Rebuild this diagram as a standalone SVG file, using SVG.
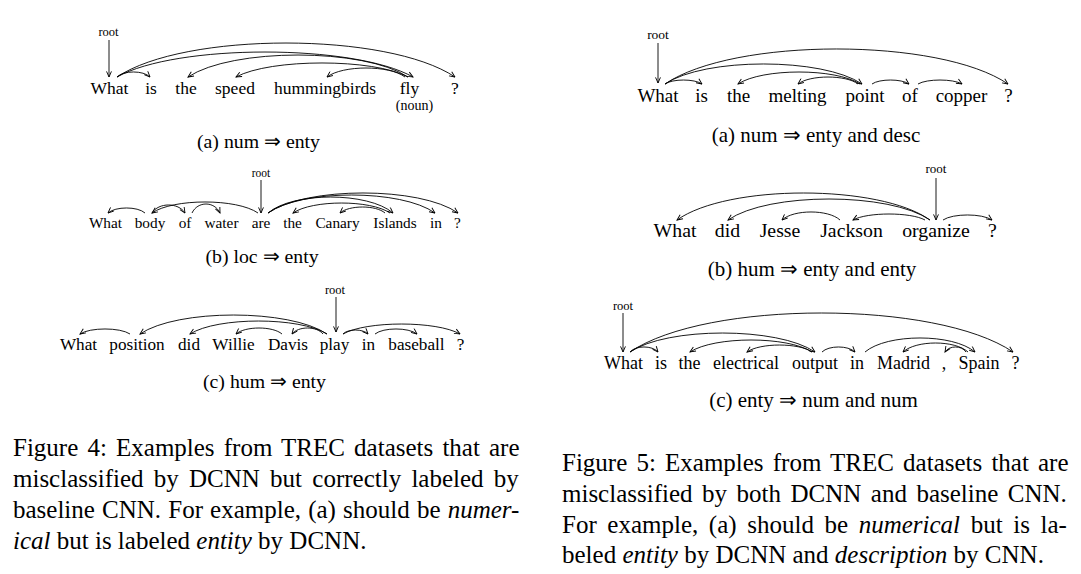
<svg xmlns="http://www.w3.org/2000/svg" width="1081" height="574" viewBox="0 0 1081 574">
<style>
text{font-family:"Liberation Serif","Times New Roman",serif;fill:#000}
.w{text-anchor:middle}
.r{text-anchor:middle}
.a4a{font-size:17.5px}.a4b{font-size:15.3px}.a4c{font-size:17.2px}
.a5a{font-size:19px}.a5b{font-size:19.8px}.a5c{font-size:18px}
.sub{font-size:19.8px;text-anchor:middle}
.sub5{font-size:21px;text-anchor:middle}
.cap{font-size:25px}
.arc{fill:none;stroke:#000;stroke-width:0.9;marker-end:url(#ah)}
</style>
<defs>
<marker id="ah" viewBox="0 0 10 10" refX="9" refY="5" markerWidth="7" markerHeight="7" markerUnits="userSpaceOnUse" orient="auto">
<path d="M1,1.5 L9,5 L1,8.5" fill="none" stroke="#000" stroke-width="1.3"/>
</marker>
</defs>
<rect width="1081" height="574" fill="#fff"/>

<!-- Figure 4a -->
<g id="f4a">
<g id="f4a-root"><text class="r" x="108.5" y="35.5" font-size="12.5">root</text></g>
<g id="f4a-what"><text class="w a4a" x="109.5" y="94">What</text></g>
<g id="f4a-is"><text class="w a4a" x="151" y="94">is</text></g>
<g id="f4a-the"><text class="w a4a" x="186" y="94">the</text></g>
<g id="f4a-speed"><text class="w a4a" x="235" y="94">speed</text></g>
<g id="f4a-hummingbirds"><text class="w a4a" x="325" y="94">hummingbirds</text></g>
<g id="f4a-fly"><text class="w a4a" x="409.5" y="94">fly</text><text class="w" x="414.5" y="110" font-size="14">(noun)</text></g>
<g id="f4a-q"><text class="w a4a" x="455" y="94">?</text></g>
<g id="f4a-cap"><text class="sub" x="258.5" y="148">(a) num ⇒ enty</text></g>
</g>

<!-- Figure 4b -->
<g id="f4b">
<g id="f4b-root"><text class="r" x="261" y="176.5" font-size="11.5">root</text></g>
<g id="f4b-what"><text class="w a4b" x="105.5" y="228">What</text></g>
<g id="f4b-body"><text class="w a4b" x="150" y="228">body</text></g>
<g id="f4b-of"><text class="w a4b" x="185" y="228">of</text></g>
<g id="f4b-water"><text class="w a4b" x="221.5" y="228">water</text></g>
<g id="f4b-are"><text class="w a4b" x="261" y="228">are</text></g>
<g id="f4b-the"><text class="w a4b" x="292.5" y="228">the</text></g>
<g id="f4b-canary"><text class="w a4b" x="337.5" y="228">Canary</text></g>
<g id="f4b-islands"><text class="w a4b" x="395" y="228">Islands</text></g>
<g id="f4b-in"><text class="w a4b" x="436" y="228">in</text></g>
<g id="f4b-q"><text class="w a4b" x="457.5" y="228">?</text></g>
<g id="f4b-cap"><text class="sub" x="262" y="263">(b) loc ⇒ enty</text></g>
</g>

<!-- Figure 4c -->
<g id="f4c">
<g id="f4c-root"><text class="r" x="335" y="293.7" font-size="12.5">root</text></g>
<g id="f4c-what"><text class="w a4c" x="78.5" y="350">What</text></g>
<g id="f4c-position"><text class="w a4c" x="137" y="350">position</text></g>
<g id="f4c-did"><text class="w a4c" x="189" y="350">did</text></g>
<g id="f4c-willie"><text class="w a4c" x="233.5" y="350">Willie</text></g>
<g id="f4c-davis"><text class="w a4c" x="288" y="350">Davis</text></g>
<g id="f4c-play"><text class="w a4c" x="334.5" y="350">play</text></g>
<g id="f4c-in"><text class="w a4c" x="368.5" y="350">in</text></g>
<g id="f4c-baseball"><text class="w a4c" x="416.5" y="350">baseball</text></g>
<g id="f4c-q"><text class="w a4c" x="460.5" y="350">?</text></g>
<g id="f4c-cap"><text class="sub" x="264.5" y="388">(c) hum ⇒ enty</text></g>
</g>

<!-- Figure 5a -->
<g id="f5a">
<g id="f5a-root"><text class="r" x="658" y="39" font-size="13.5">root</text></g>
<g id="f5a-what"><text class="w a5a" x="658" y="102">What</text></g>
<g id="f5a-is"><text class="w a5a" x="701.5" y="102">is</text></g>
<g id="f5a-the"><text class="w a5a" x="738.5" y="102">the</text></g>
<g id="f5a-melting"><text class="w a5a" x="797.5" y="102">melting</text></g>
<g id="f5a-point"><text class="w a5a" x="865" y="102">point</text></g>
<g id="f5a-of"><text class="w a5a" x="910" y="102">of</text></g>
<g id="f5a-copper"><text class="w a5a" x="961.5" y="102">copper</text></g>
<g id="f5a-q"><text class="w a5a" x="1008.5" y="102">?</text></g>
<g id="f5a-cap"><text class="sub5" x="816" y="142">(a) num ⇒ enty and desc</text></g>
</g>

<!-- Figure 5b -->
<g id="f5b">
<g id="f5b-root"><text class="r" x="936" y="172.7" font-size="13">root</text></g>
<g id="f5b-what"><text class="w a5b" x="675" y="237">What</text></g>
<g id="f5b-did"><text class="w a5b" x="727.5" y="237">did</text></g>
<g id="f5b-jesse"><text class="w a5b" x="780" y="237">Jesse</text></g>
<g id="f5b-jackson"><text class="w a5b" x="851.5" y="237">Jackson</text></g>
<g id="f5b-organize"><text class="w a5b" x="936" y="237">organize</text></g>
<g id="f5b-q"><text class="w a5b" x="992.5" y="237">?</text></g>
<g id="f5b-cap"><text class="sub5" x="812" y="276">(b) hum ⇒ enty and enty</text></g>
</g>

<!-- Figure 5c -->
<g id="f5c">
<g id="f5c-root"><text class="r" x="623" y="310" font-size="12.5">root</text></g>
<g id="f5c-what"><text class="w a5c" x="623.5" y="369">What</text></g>
<g id="f5c-is"><text class="w a5c" x="661" y="369">is</text></g>
<g id="f5c-the"><text class="w a5c" x="689.5" y="369">the</text></g>
<g id="f5c-electrical"><text class="w a5c" x="746" y="369">electrical</text></g>
<g id="f5c-output"><text class="w a5c" x="815" y="369">output</text></g>
<g id="f5c-in"><text class="w a5c" x="857" y="369">in</text></g>
<g id="f5c-madrid"><text class="w a5c" x="903.5" y="369">Madrid</text></g>
<g id="f5c-comma"><text class="w a5c" x="944" y="369">,</text></g>
<g id="f5c-spain"><text class="w a5c" x="979" y="369">Spain</text></g>
<g id="f5c-q"><text class="w a5c" x="1015.5" y="369">?</text></g>
<g id="f5c-cap"><text class="sub5" x="813.5" y="407">(c) enty ⇒ num and num</text></g>
</g>

<!-- Connectors -->
<g id="connectors">
<!-- root arrows -->
<path class="arc" d="M109,40 L109,77"/>
<path class="arc" d="M261,180 L261,213"/>
<path class="arc" d="M336,297 L336,332"/>
<path class="arc" d="M658,43 L658,83"/>
<path class="arc" d="M936,178 L936,220"/>
<path class="arc" d="M623,313 L623,352"/>
<!-- 4a -->
<path class="arc" d="M117,77 C123.6,70.3 143.4,70.3 150,77"/>
<path class="arc" d="M117,77 C184.6,31.7 387.4,31.7 455,77"/>
<path class="arc" d="M117,77 C176.2,43.7 353.8,43.7 413,77"/>
<path class="arc" d="M408,77 C364,47.7 232,47.7 188,77"/>
<path class="arc" d="M408,77 C373.6,58.3 270.4,58.3 236,77"/>
<path class="arc" d="M405,77 C389.4,65 342.6,65 327,77"/>
<!-- 4b -->
<path class="arc" d="M145,213 C137.6,206.3 115.4,206.3 108,213"/>
<path class="arc" d="M152,213 C158.6,202.3 178.4,202.3 185,213"/>
<path class="arc" d="M192,213 C197.6,201 214.4,201 220,213"/>
<path class="arc" d="M258,213 C236.8,198.3 173.2,198.3 152,213"/>
<path class="arc" d="M268,213 C293,191.7 368,191.7 393,213"/>
<path class="arc" d="M390,213 C370.6,199.7 312.4,199.7 293,213"/>
<path class="arc" d="M385,213 C376,205 349,205 340,213"/>
<path class="arc" d="M268,213 C301.4,189 401.6,189 435,213"/>
<path class="arc" d="M268,213 C306,186.3 420,186.3 458,213"/>
<!-- 4c -->
<path class="arc" d="M130,334 C120,327.3 90,327.3 80,334"/>
<path class="arc" d="M327,334 C289.6,308.7 177.4,308.7 140,334"/>
<path class="arc" d="M327,334 C299.6,316.7 217.4,316.7 190,334"/>
<path class="arc" d="M282,334 C272.8,326 245.2,326 236,334"/>
<path class="arc" d="M323,334 C316.8,326 298.2,326 292,334"/>
<path class="arc" d="M343,334 C348,328.7 363,328.7 368,334"/>
<path class="arc" d="M375,334 C383.4,327.3 408.6,327.3 417,334"/>
<path class="arc" d="M343,334 C366.4,320.7 436.6,320.7 460,334"/>
<!-- 5a -->
<path class="arc" d="M665,84 C672.4,78.7 694.6,78.7 702,84"/>
<path class="arc" d="M665,84 C733.6,37.3 939.4,37.3 1008,84"/>
<path class="arc" d="M665,84 C704.4,57.3 822.6,57.3 862,84"/>
<path class="arc" d="M860,84 C835.6,68 762.4,68 738,84"/>
<path class="arc" d="M858,84 C846,74.7 810,74.7 798,84"/>
<path class="arc" d="M872,84 C879.4,78.7 901.6,78.7 909,84"/>
<path class="arc" d="M918,84 C926.8,78.7 953.2,78.7 962,84"/>
<!-- 5b -->
<path class="arc" d="M930,220 C879.4,184 727.6,184 677,220"/>
<path class="arc" d="M930,220 C889.6,192 768.4,192 728,220"/>
<path class="arc" d="M840,220 C828.4,209.3 793.6,209.3 782,220"/>
<path class="arc" d="M925,220 C910.6,212 867.4,212 853,220"/>
<path class="arc" d="M943,220 C952.8,213.3 982.2,213.3 992,220"/>
<!-- 5c -->
<path class="arc" d="M630,352 C635.6,345.3 652.4,345.3 658,352"/>
<path class="arc" d="M630,352 C706.6,300 936.4,300 1013,352"/>
<path class="arc" d="M630,352 C667,326.7 778,326.7 815,352"/>
<path class="arc" d="M812,352 C787.6,336 714.4,336 690,352"/>
<path class="arc" d="M812,352 C799,342.7 760,342.7 747,352"/>
<path class="arc" d="M822,352 C828.6,345.3 848.4,345.3 855,352"/>
<path class="arc" d="M865,352 C887,333.3 953,333.3 975,352"/>
<path class="arc" d="M968,352 C955,340 916,340 903,352"/>
<path class="arc" d="M966,352 C961.8,345.3 949.2,345.3 945,352"/>
</g>

<!-- Captions -->
<g id="caption4" class="cap">
<text x="13" y="455.5" word-spacing="2.9">Figure 4: Examples from TREC datasets that are</text>
<text x="13" y="486.5" word-spacing="4.0">misclassified by DCNN but correctly labeled by</text>
<text x="13" y="517.5" word-spacing="0.9">baseline CNN. For example, (a) should be <tspan font-style="italic">numer-</tspan></text>
<text x="13" y="548.5"><tspan font-style="italic">ical</tspan> but is labeled <tspan font-style="italic">entity</tspan> by DCNN.</text>
</g>
<g id="caption5" class="cap">
<text x="562" y="471" word-spacing="2.9">Figure 5: Examples from TREC datasets that are</text>
<text x="562" y="502" word-spacing="3.25">misclassified by both DCNN and baseline CNN.</text>
<text x="562" y="533" word-spacing="4.35">For example, (a) should be <tspan font-style="italic">numerical</tspan> but is la-</text>
<text x="562" y="563">beled <tspan font-style="italic">entity</tspan> by DCNN and <tspan font-style="italic">description</tspan> by CNN.</text>
</g>
</svg>
